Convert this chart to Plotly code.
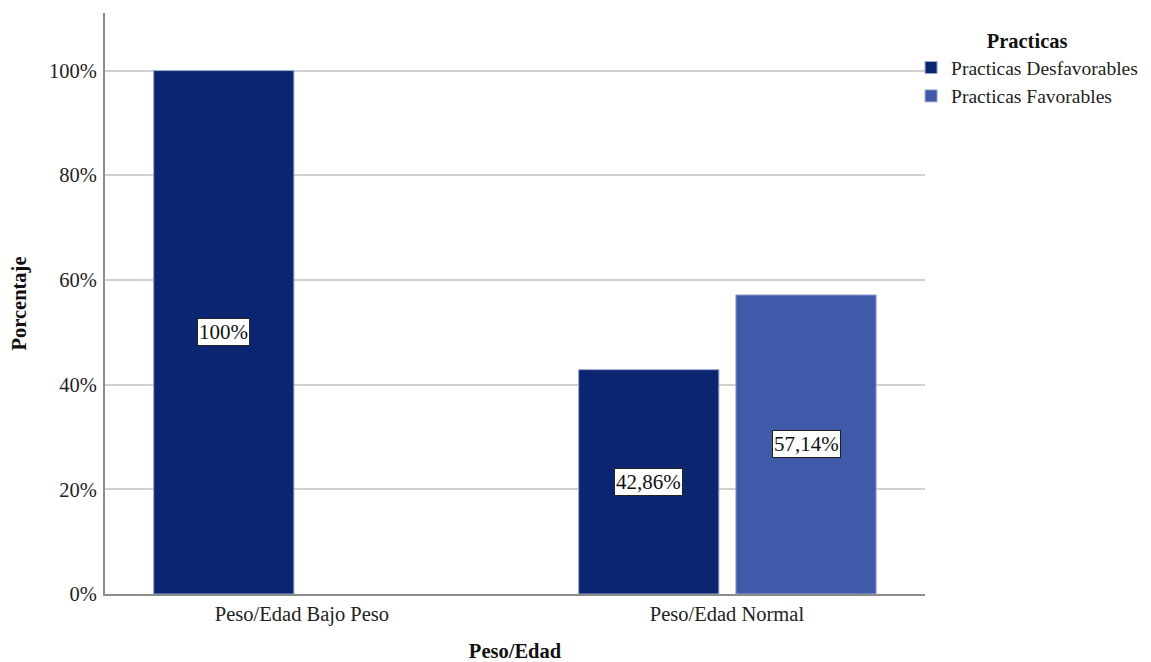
import plotly.graph_objects as go

categories = ["Peso/Edad Bajo Peso", "Peso/Edad Normal"]
desfavorables = [100.0, 42.86]
favorables = [None, 57.14]
labels_desf = ["100%", "42,86%"]
labels_fav = [None, "57,14%"]
yticks = [0, 20, 40, 60, 80, 100]
yticktext = ["0%", "20%", "40%", "60%", "80%", "100%"]

FONT = "Liberation Serif"
FS = 20.5
C_DARK = "#0B2570"
C_LIGHT = "#3F5AA8"

fig = go.Figure()
fig.add_trace(go.Bar(
    x=categories, y=desfavorables, name="Practicas Desfavorables",
    marker=dict(color=C_DARK, line=dict(color="#9AA8CC", width=1)),
    width=0.33, offset=-0.349, hoverinfo="skip"))
fig.add_trace(go.Bar(
    x=categories, y=favorables, name="Practicas Favorables",
    marker=dict(color=C_LIGHT, line=dict(color="#9AA8CC", width=1)),
    width=0.33, offset=0.021, hoverinfo="skip"))

for cat, v, t in zip(categories, desfavorables, labels_desf):
    if v is not None:
        fig.add_annotation(x=cat, y=v / 2, text=t, showarrow=False,
                           xshift=-0.184 * 425, bgcolor="white",
                           bordercolor="#222222", borderwidth=1, borderpad=1,
                           font=dict(family=FONT, size=21, color="#111"))
for cat, v, t in zip(categories, favorables, labels_fav):
    if v is not None:
        fig.add_annotation(x=cat, y=v / 2, text=t, showarrow=False,
                           xshift=0.186 * 425, bgcolor="white",
                           bordercolor="#222222", borderwidth=1, borderpad=1,
                           font=dict(family=FONT, size=21, color="#111"))

# page body has an 8px margin, so the figure is sized to fit the viewport
fig.update_layout(
    width=1143, height=654,
    margin=dict(l=97, r=226, t=5, b=68, autoexpand=False),
    paper_bgcolor="white", plot_bgcolor="white",
    font=dict(family=FONT, size=FS, color="#222"),
    barmode="overlay",
    showlegend=True,
    legend=dict(
        title=dict(text="<b>Practicas</b>", side="top center",
                   font=dict(family=FONT, size=20.5, color="#111")),
        x=0.983, xanchor="left", y=0.985, yanchor="top",
        font=dict(family=FONT, size=19.5, color="#222"),
        tracegroupgap=0, bgcolor="rgba(0,0,0,0)"),
    xaxis=dict(
        type="category", range=[-0.4635, 1.466], automargin=False,
        showline=True, linecolor="#8C8C8C", linewidth=2,
        showgrid=False, ticks="", ticklabelstandoff=0,
        tickfont=dict(family=FONT, size=FS, color="#222"),
        title=dict(text="<b>Peso/Edad</b>", standoff=33,
                   font=dict(family=FONT, size=20.5, color="#111"))),
    yaxis=dict(
        range=[0, 111.0], tickvals=yticks, ticktext=yticktext, automargin=False,
        showline=True, linecolor="#8C8C8C", linewidth=2,
        showgrid=True, gridcolor="#D0D0D0", gridwidth=2,
        zeroline=False, ticks="", ticklabelstandoff=2,
        tickfont=dict(family=FONT, size=FS, color="#222"),
        title=dict(text="<b>Porcentaje</b>", standoff=18,
                   font=dict(family=FONT, size=20.5, color="#111"))),
)

fig.write_html("out.html")
